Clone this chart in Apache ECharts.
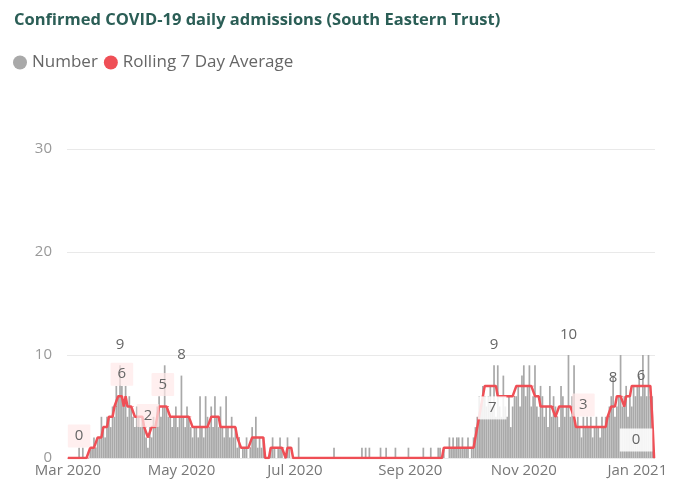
<!DOCTYPE html>
<html><head><meta charset="utf-8">
<script src="https://cdn.jsdelivr.net/npm/echarts/dist/echarts.min.js"></script>
<style>html,body{margin:0;padding:0;background:#fff}#c{width:686px;height:497px}</style>
</head><body><div id="c"></div>
<script>
// Daily confirmed admissions ("Number"), one array per month, starting 2020-03-01
const numberMar = [0,0,0,0,0,0,1,0,1,0,0,0,1,1,2,1,2,2,4,3,2,4,4,3,5,4,7,6,9,7,5];
const numberApr = [7,4,6,5,4,3,5,4,3,4,3,2,1,3,2,4,3,5,6,4,5,9,5,4,4,3,4,5,3,4];
const numberMay = [8,4,3,5,4,3,2,3,3,2,6,3,2,6,4,3,5,3,6,4,3,5,3,2,6,3,2,4,2,3,1];
const numberJun = [2,0,1,1,2,0,1,3,2,4,1,2,1,2,0,0,0,1,2,1,0,1,2,1,0,0,2,1,0,0];
const numberJul = [0,0,2,0,0,0,0,0,0,0,0,0,0,0,0,0,0,0,0,0,0,1,0,0,0,0,0,0,0,0,0];
const numberAug = [0,0,0,0,0,1,0,1,0,1,0,0,0,0,0,1,0,0,1,0,0,0,0,1,0,0,0,0,0,0,1];
const numberSep = [0,0,0,0,0,0,0,1,0,0,0,1,0,0,0,1,1,0,1,0,0,2,1,2,1,2,2,1,2,1];
const numberOct = [1,2,0,1,2,3,4,6,5,7,6,5,6,7,5,9,4,9,5,4,8,5,4,6,3,5,6,6,7,5,8];
const numberNov = [9,6,7,9,5,6,9,5,4,7,6,4,5,3,7,4,6,5,4,3,7,6,4,5,10,4,6,9,3,4];
const numberDec = [3,2,4,3,4,3,4,2,3,4,3,2,4,3,4,4,5,6,8,4,5,6,10,5,6,7,4,6,5,7,6];
const numberJan = [7,8,6,10,7,6,10,6,6,0];

// Rolling 7 day average, one array per month
const avgMar = [0,0,0,0,0,0,0,0,0,0,0,0,1,1,1,1,2,2,2,3,3,3,4,4,4,5,5,6,6,6,5];
const avgApr = [6,5,5,5,5,4,4,4,4,4,3,3,2,2,3,3,3,4,5,5,5,5,5,5,4,4,4,4,4,4];
const avgMay = [4,4,4,4,4,4,3,3,3,3,3,3,3,3,3,3,4,4,4,4,4,3,3,3,3,3,3,3,3,3,2];
const avgJun = [2,1,1,1,1,1,1,2,2,2,2,2,2,2,0,0,0,1,1,1,1,1,1,1,1,0,1,1,1,0];
const avgJul = [0,0,0,0,0,0,0,0,0,0,0,0,0,0,0,0,0,0,0,0,0,0,0,0,0,0,0,0,0,0,0];
const avgAug = [0,0,0,0,0,0,0,0,0,0,0,0,0,0,0,0,0,0,0,0,0,0,0,0,0,0,0,0,0,0,0];
const avgSep = [0,0,0,0,0,0,0,0,0,0,0,0,0,0,0,0,0,0,1,1,1,1,1,1,1,1,1,1,1,1];
const avgOct = [1,1,1,1,1,2,3,4,5,6,7,7,7,7,7,7,7,6,6,6,6,6,6,6,6,6,6,7,7,7,7];
const avgNov = [7,7,7,7,7,7,6,6,6,5,5,5,5,5,5,5,5,4,4,5,5,5,5,5,5,5,5,4,3,3];
const avgDec = [3,3,3,3,3,3,3,3,3,3,3,3,3,3,3,4,4,5,5,5,6,6,6,6,5,6,6,6,7,7,7];
const avgJan = [7,7,7,7,7,7,7,7,4,0];

const startDate = '2020-03-01';
const tickLabels = {
  '2020-03-01': 'Mar 2020', '2020-05-01': 'May 2020', '2020-07-01': 'Jul 2020',
  '2020-09-01': 'Sep 2020', '2020-11-01': 'Nov 2020', '2021-01-01': 'Jan 2021'
};
const yTicks = [0, 10, 20, 30];
const barLabelDates = ['2020-03-29', '2020-05-01', '2020-10-16', '2020-11-25', '2021-01-03'];
const barLabelLowered = ['2020-12-19'];
const lineLabelAbove = ['2020-03-07', '2020-03-30', '2020-04-13', '2020-04-21', '2020-12-03'];
const lineLabelBelow = ['2020-10-15'];
const lineLabelEnd = ['2021-01-10'];

const number = [].concat(numberMar, numberApr, numberMay, numberJun, numberJul, numberAug,
  numberSep, numberOct, numberNov, numberDec, numberJan);
const average = [].concat(avgMar, avgApr, avgMay, avgJun, avgJul, avgAug,
  avgSep, avgOct, avgNov, avgDec, avgJan);

const categories = [];
const dt = new Date(startDate + 'T00:00:00Z');
for (let i = 0; i < number.length; i++) {
  categories.push(dt.toISOString().slice(0, 10));
  dt.setUTCDate(dt.getUTCDate() + 1);
}

const FONT = 'Open Sans';
const RED = '#ef4f56';
const GREY = '#a9a9a9';

const barData = number.map((v, i) => {
  const c = categories[i];
  if (barLabelDates.includes(c)) return { value: v, label: { show: true } };
  if (barLabelLowered.includes(c)) return { value: v, label: { show: true, offset: [0, 23] } };
  return v;
});

const pinkBox = { backgroundColor: 'rgba(255,232,232,0.7)', padding: [4, 7], borderRadius: 1 };
const lineData = average.map((v, i) => {
  const c = categories[i];
  if (lineLabelAbove.includes(c)) return { value: v, label: Object.assign({ show: true, position: 'top', distance: 10 }, pinkBox) };
  if (lineLabelBelow.includes(c)) return { value: v, label: { show: true, position: 'bottom', distance: 10, backgroundColor: 'rgba(255,255,255,0.85)', padding: [4, 10] } };
  if (lineLabelEnd.includes(c)) return { value: v, label: { show: true, position: 'top', distance: 6, offset: [-18, 0], backgroundColor: 'rgba(255,255,255,0.88)', padding: [4, 12] } };
  return v;
});

const chart = echarts.init(document.getElementById('c'), null, { renderer: 'canvas' });
chart.setOption({
  animation: false,
  textStyle: { fontFamily: FONT },
  title: {
    text: 'Confirmed COVID-19 daily admissions (South Eastern Trust)',
    left: 14, top: 12, padding: 0,
    textStyle: { fontFamily: FONT, fontSize: 16.5, fontWeight: 'bold', color: '#2b5e56' }
  },
  legend: {
    left: 13, top: 54, padding: 0,
    icon: 'circle', itemWidth: 14, itemHeight: 14, itemGap: 6,
    textStyle: { fontFamily: FONT, fontSize: 17, color: '#666' },
    data: ['Number', 'Rolling 7 Day Average']
  },
  grid: { left: 67, right: 31, top: 149, bottom: 39, containLabel: false },
  xAxis: {
    type: 'category',
    data: categories,
    boundaryGap: true,
    axisLine: { show: false },
    axisTick: { show: false },
    axisLabel: {
      interval: (idx, val) => tickLabels[val] !== undefined,
      formatter: (val) => tickLabels[val] || '',
      color: '#777', fontSize: 15, fontFamily: FONT, margin: 5
    },
    splitLine: { show: false }
  },
  yAxis: {
    type: 'value', min: yTicks[0], max: yTicks[yTicks.length - 1], interval: 10,
    axisLine: { show: false }, axisTick: { show: false },
    axisLabel: { color: '#999', fontSize: 15, fontFamily: FONT, margin: 15 },
    splitLine: { lineStyle: { color: '#e9e9e9', width: 1 } }
  },
  series: [
    {
      name: 'Number', type: 'bar', data: barData,
      itemStyle: { color: GREY },
      barCategoryGap: '8%',
      label: { show: false, position: 'top', distance: 13, color: '#666', fontSize: 15, fontFamily: FONT },
      emphasis: { disabled: true }
    },
    {
      name: 'Rolling 7 Day Average', type: 'line', data: lineData,
      symbol: 'circle', symbolSize: 1, showSymbol: true,
      itemStyle: { color: RED },
      lineStyle: { color: RED, width: 2.5 },
      label: { show: false, color: '#666', fontSize: 15, fontFamily: FONT },
      z: 5,
      emphasis: { disabled: true }
    }
  ]
});
</script>
</body></html>
